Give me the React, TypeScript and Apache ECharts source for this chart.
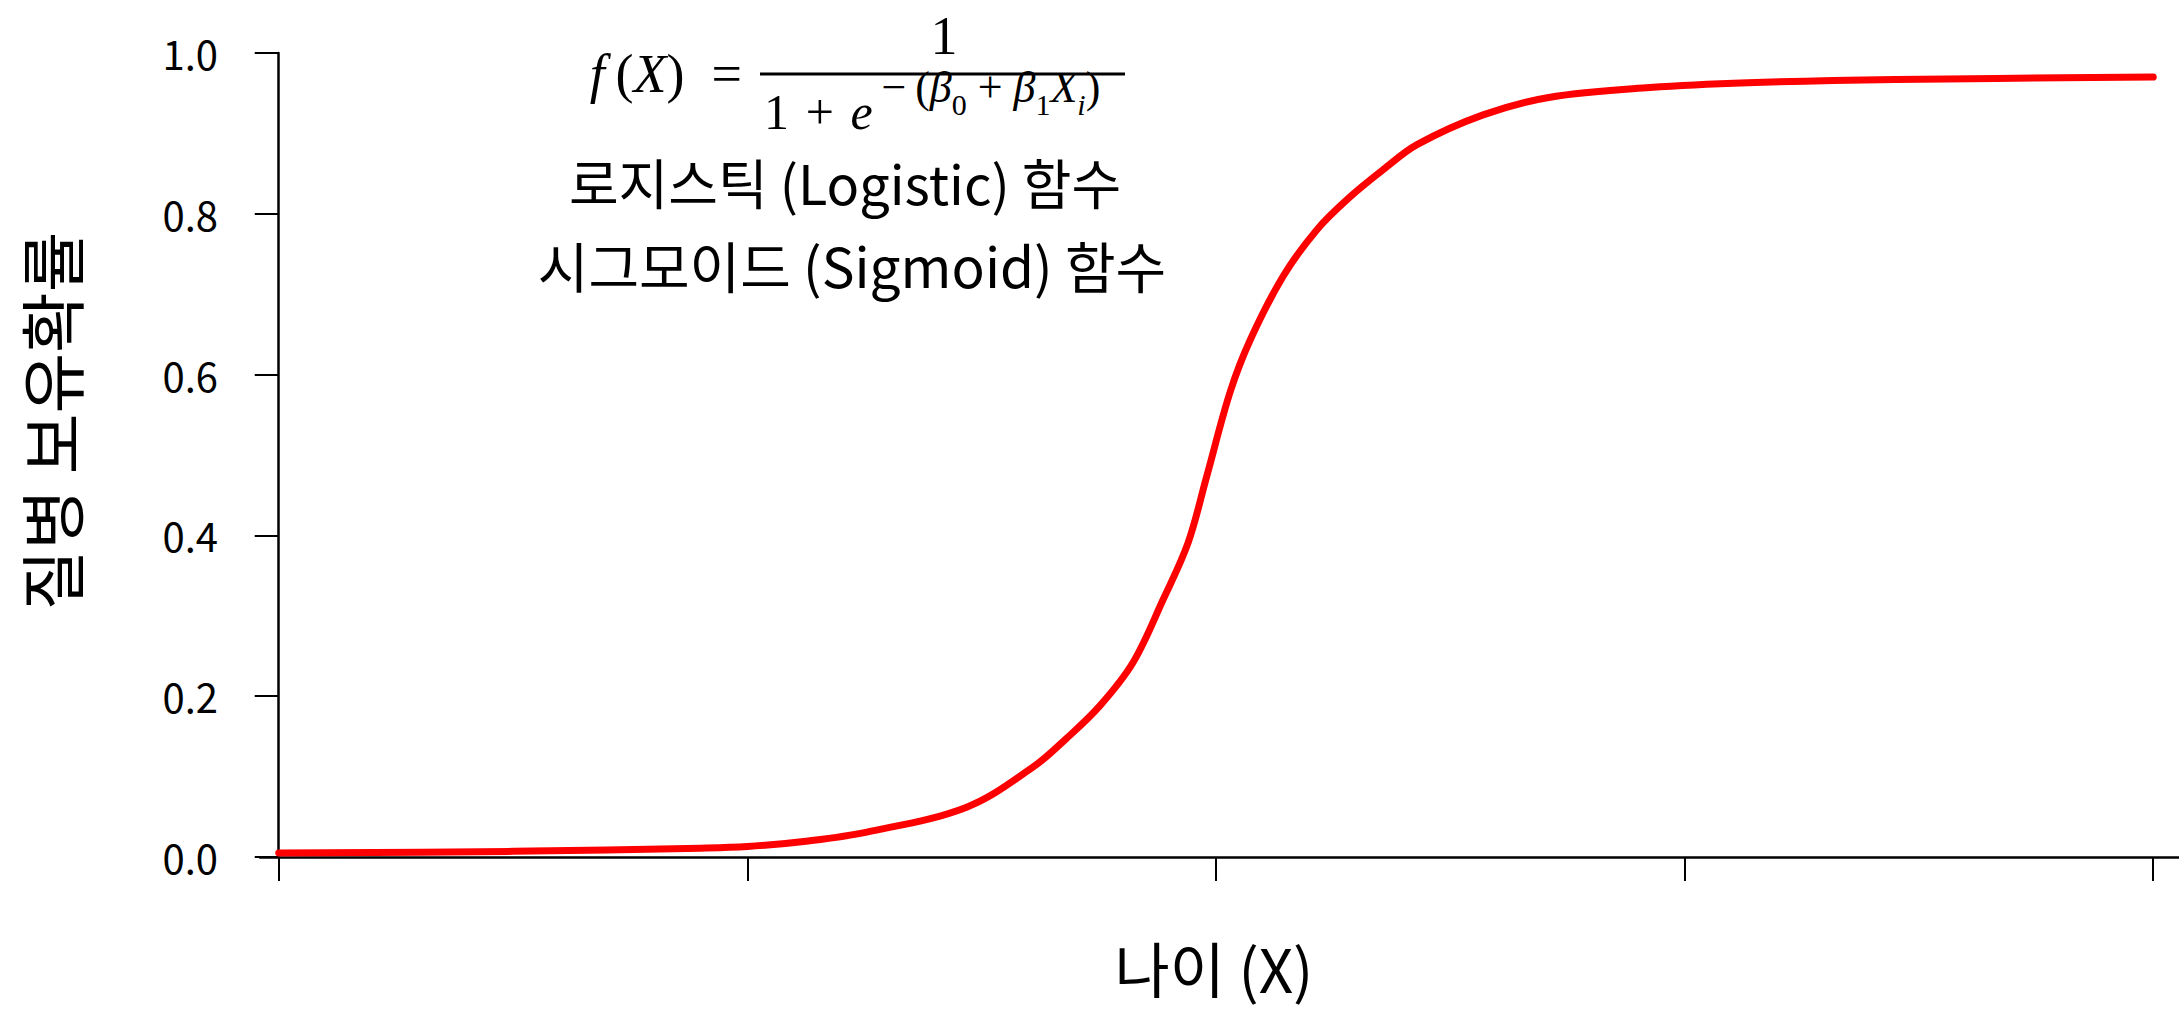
import React, { useEffect, useRef } from "react";
import * as echarts from "echarts";

// Logistic curve: age position (0..4) vs. probability
const ages = [
  0, 0.5, 0.9, 1.0, 1.13, 1.255, 1.468, 1.61, 1.68, 1.752, 1.823, 1.887, 1.94,
  1.98, 2.03, 2.073, 2.143, 2.215, 2.286, 2.357, 2.429, 2.57, 2.713, 2.926,
  3.135, 3.45, 4.0,
];
const probabilities = [
  0.005, 0.007, 0.011, 0.013, 0.02, 0.031, 0.062, 0.112, 0.147, 0.188, 0.242,
  0.32, 0.39, 0.473, 0.578, 0.643, 0.722, 0.78, 0.821, 0.855, 0.886, 0.923,
  0.945, 0.957, 0.963, 0.967, 0.97,
];
const xTickValues = [0, 1, 2, 3, 4];
const yTickStep = 0.2;

const xAxisTitle = "나이 (X)";
const yAxisTitle = "질병 보유확률";
const captionLines = ["로지스틱 (Logistic) 함수", "시그모이드 (Sigmoid) 함수"];

const SANS = '"Noto Sans CJK KR", "Noto Sans", sans-serif';
const SERIF = '"Liberation Serif", "DejaVu Serif", serif';

export default function App() {
  const ref = useRef<HTMLDivElement>(null);

  useEffect(() => {
    if (!ref.current) return;
    const chart = echarts.init(ref.current, null, { renderer: "svg" });

    const base = { fontFamily: SERIF, fill: "#000", verticalAlign: "top" };
    // Formula pieces: each level is pushed down from the line top by its padding
    const denomRich = {
      n: { ...base, fontSize: 50, padding: [21, 0, 0, 0] },
      i: { ...base, fontSize: 50, padding: [21, 0, 0, 0], fontStyle: "italic" },
      p: { ...base, fontSize: 44, padding: [0, 0, 0, 0] },
      pi: { ...base, fontSize: 44, padding: [0, 0, 0, 0], fontStyle: "italic" },
      ps: { ...base, fontSize: 30, padding: [24, 0, 0, 0] },
      psi: { ...base, fontSize: 30, padding: [24, 0, 0, 0], fontStyle: "italic" },
    };
    const plainRich = {
      n: { fontFamily: SERIF, fill: "#000", fontSize: 54 },
      i: { fontFamily: SERIF, fill: "#000", fontSize: 54, fontStyle: "italic" },
    };

    const textEl = (x: number, y: number, style: any, rotation = 0) => ({
      type: "text",
      x,
      y,
      rotation,
      style: {
        fill: "#000",
        align: style.align,
        textAlign: style.align,
        verticalAlign: "middle",
        textVerticalAlign: "middle",
        ...style,
      },
    });

    chart.setOption({
      animation: false,
      backgroundColor: "#fff",
      grid: { left: 260, right: 0, top: 53, bottom: 155, containLabel: false },
      xAxis: {
        type: "value",
        min: -0.04,
        max: 4.055,
        axisLine: { onZero: true, lineStyle: { color: "#000", width: 2.5 } },
        axisTick: {
          show: true,
          inside: false,
          length: 24,
          customValues: xTickValues,
          lineStyle: { color: "#000", width: 2 },
        },
        axisLabel: { show: false },
        splitLine: { show: false },
      },
      yAxis: {
        type: "value",
        min: 0,
        max: 1,
        interval: yTickStep,
        axisLine: { show: true, onZero: true, lineStyle: { color: "#000", width: 2.5 } },
        axisTick: { show: true, length: 24, lineStyle: { color: "#000", width: 2 } },
        axisLabel: {
          margin: 42,
          color: "#000",
          fontFamily: SANS,
          fontSize: 40,
          formatter: (v: number) => v.toFixed(1),
        },
        splitLine: { show: false },
      },
      series: [
        {
          type: "line",
          data: ages.map((a, k) => [a, probabilities[k]]),
          smooth: 0.35,
          showSymbol: false,
          symbol: "none",
          lineStyle: { color: "#ff0000", width: 7, cap: "round", join: "round" },
          z: 5,
        },
      ],
      graphic: [
        // f(X) = 1 / (1 + e^-(b0 + b1 Xi))
        textEl(742, 74, {
          text: "{i|f}{n|\u2009(}{i|X}{n|)\u2002=}",
          rich: plainRich,
          align: "right",
        }),
        textEl(944, 36, { text: "{n|1}", rich: plainRich, align: "center" }),
        {
          type: "line",
          shape: { x1: 760, y1: 74, x2: 1125, y2: 74 },
          style: { stroke: "#000", lineWidth: 3 },
        },
        textEl(764, 101, {
          text:
            "{n|1\u2004+\u2004}{i|e}{p|\u2009−\u2009(}{pi|β}{ps|0}{p| + }{pi|β}{ps|1}{pi|X}{psi|i}{p|)}",
          rich: denomRich,
          align: "left",
        }),
        textEl(845, 181, {
          text: captionLines[0],
          fontFamily: SANS,
          fontSize: 54,
          align: "center",
        }),
        textEl(852, 264, {
          text: captionLines[1],
          fontFamily: SANS,
          fontSize: 55,
          align: "center",
        }),
        textEl(
          49,
          421,
          { text: yAxisTitle, fontFamily: SANS, fontSize: 66, align: "center" },
          Math.PI / 2
        ),
        textEl(1214, 966, {
          text: xAxisTitle,
          fontFamily: SANS,
          fontSize: 60,
          align: "center",
        }),
      ],
    });

    return () => chart.dispose();
  }, []);

  return (
    <div
      ref={ref}
      style={{ position: "absolute", left: 0, top: 0, width: 2179, height: 1012 }}
    />
  );
}
